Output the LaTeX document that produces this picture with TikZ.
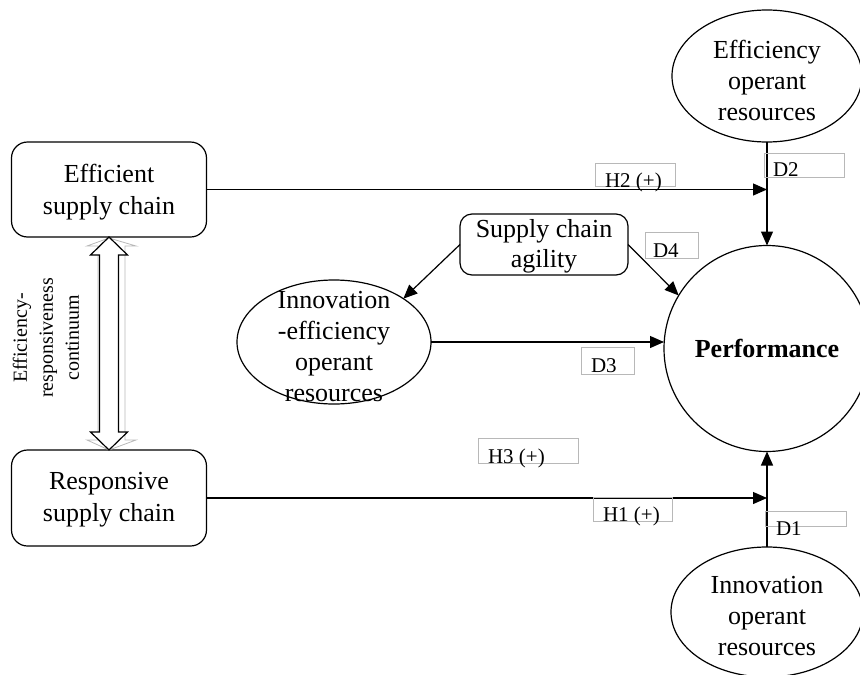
\documentclass[tikz,border=0pt]{standalone}
\usepackage{fontspec}
\setmainfont{Liberation Serif}
\usetikzlibrary{arrows.meta,calc,shapes.geometric}
\begin{document}
\begin{tikzpicture}[x=1pt,y=-1pt,
  every node/.style={inner sep=0pt, outer sep=0pt},
  bigtext/.style={font=\fontsize{26}{31}\selectfont, align=center},
  chainbox/.style={draw, line width=1.2pt, rounded corners=16pt,
    minimum width=195pt, minimum height=95pt},
  oval/.style={draw, ellipse, line width=1.2pt},
  tagbox/.style={draw=black!28, line width=0.8pt},
  tagtext/.style={font=\fontsize{21}{25}\selectfont, anchor=base west},
  link/.style={line width=1.2pt, -{Triangle[length=14pt,width=12pt]}},
]
\useasboundingbox (0,0) rectangle (860,675);

% supply chain types
\node[chainbox] (effbox) at (109,189.5) {};
\node[bigtext, font=\fontsize{26}{32}\selectfont] at (109,192) {Efficient\\supply chain};
\node[chainbox, minimum height=96pt] (resbox) at (109,498) {};
\node[bigtext, font=\fontsize{26}{32}\selectfont] at (109,500) {Responsive\\supply chain};

% agility box
\node[draw, line width=1.2pt, rounded corners=12pt, minimum width=168pt,
  minimum height=61pt] (agility) at (544,244.5) {};
\node[bigtext, font=\fontsize{26}{30}\selectfont] at (544,246) {Supply chain\\agility};

% operant resources and performance
\node[oval, minimum width=190pt, minimum height=132pt] (effres) at (767,76) {};
\node[bigtext] at (767,80) {Efficiency\\operant\\resources};

\node[oval, minimum width=192pt, minimum height=130pt] (innres) at (767,612) {};
\node[bigtext] at (767,616) {Innovation\\operant\\resources};

\node[oval, minimum width=194pt, minimum height=124pt] (ie) at (334,342) {};
\node[bigtext] at (334,347) {Innovation\\-efficiency\\operant\\resources};

\node[draw, circle, line width=1.2pt, minimum size=206pt] (perf) at (767,348.5) {};
\node[font=\bfseries\fontsize{26}{31}\selectfont] at (767,348) {Performance};

% efficiency-responsiveness continuum (double arrow)
\coordinate (T) at (effbox.south);
\coordinate (B) at (resbox.north);
\draw[black!28, line width=0.8pt]
  ($(T)+(0,1)$) -- ($(T)+(-22,9)$) -- ($(T)+(-11,9)$) -- ($(B)+(-11,-10)$)
  -- ($(B)+(-22,-10)$) -- (B) -- ($(B)+(27,-10)$) -- ($(B)+(16,-10)$)
  -- ($(T)+(16,9)$) -- ($(T)+(27,9)$) -- cycle;
\draw[line width=1.2pt, fill=white]
  (T) -- ($(T)+(-18.5,18)$) -- ($(T)+(-9.5,18)$) -- ($(B)+(-9.5,-18)$)
  -- ($(B)+(-18.5,-18)$) -- (B) -- ($(B)+(18.5,-18)$) -- ($(B)+(9.5,-18)$)
  -- ($(T)+(9.5,18)$) -- ($(T)+(18.5,18)$) -- cycle;
\node[rotate=90, font=\fontsize{20}{26}\selectfont, align=center] (cont) at (46,338)
  {Efficiency-\\responsiveness\\continuum};

% connectors
\draw[link] (effbox.east) -- (effbox.east -| effres.south);
\draw[link] (resbox.east) -- (resbox.east -| innres.north);
\draw[link] (effres.south) -- (perf.north);
\draw[link] (innres.north) -- (perf.south);
\draw[link] (agility.west) -- (ie.32);
\draw[link] (agility.east) -- (perf.149);
\draw[link] (ie.east) -- (ie.east -| perf.west);

% hypothesis and direction tags
\node[tagbox, minimum width=80pt, minimum height=23pt] (h2box) at (635,174.5) {};
\node[tagtext] at (605,187) {H2 (+)};
\node[tagbox, minimum width=80pt, minimum height=24pt] (d2box) at (804,165) {};
\node[tagtext] at (773,176) {D2};
\node[tagbox, minimum width=53pt, minimum height=26pt] (d4box) at (671.5,245) {};
\node[tagtext] at (653,257) {D4};
\node[tagbox, minimum width=53pt, minimum height=27pt] (d3box) at (607.5,360.5) {};
\node[tagtext] at (591,372) {D3};
\node[tagbox, minimum width=100pt, minimum height=25pt] (h3box) at (528,450.5) {};
\node[tagtext] at (488,463) {H3 (+)};
\node[tagbox, minimum width=79pt, minimum height=24pt] (h1box) at (632.5,509) {};
\node[tagtext] at (603,521) {H1 (+)};
\node[tagbox, minimum width=81pt, minimum height=15pt] (d1box) at (805.5,518.5) {};
\node[tagtext] at (776,535) {D1};
\end{tikzpicture}
\end{document}
